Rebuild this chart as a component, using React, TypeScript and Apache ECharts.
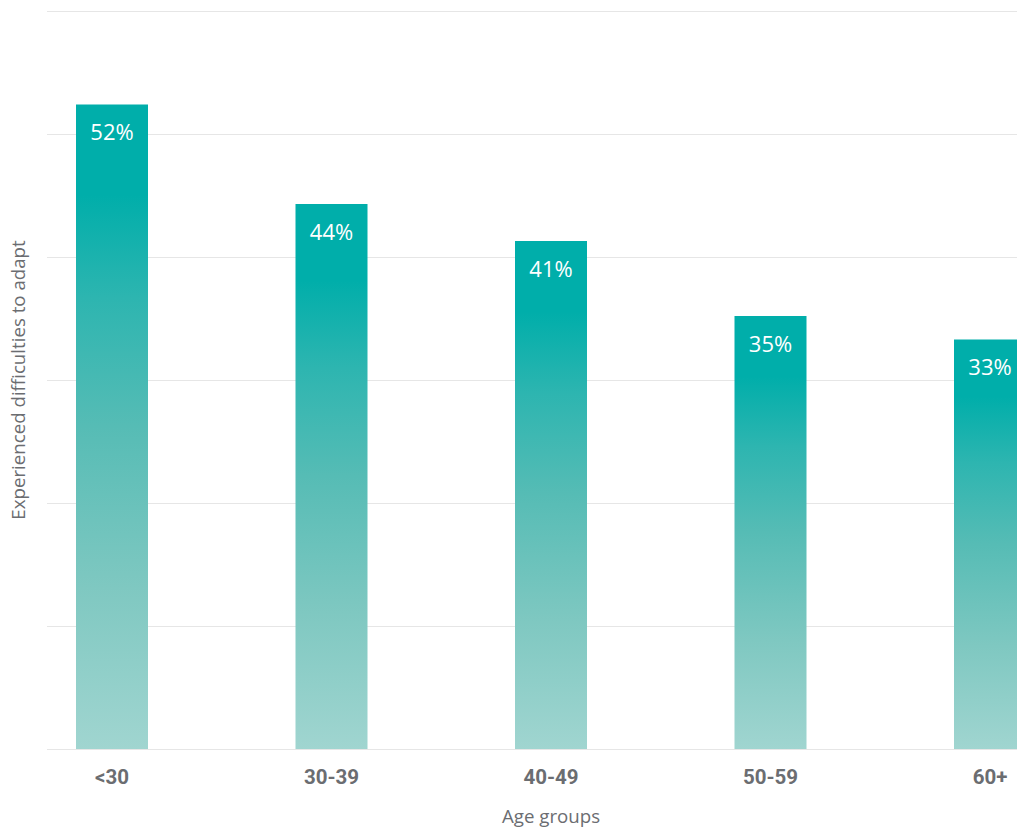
import React, { useEffect, useRef } from "react";
import * as echarts from "echarts";

const categories = ["<30", "30-39", "40-49", "50-59", "60+"];
const values = [52.4, 44.3, 41.3, 35.2, 33.3];
const yTicks = [0, 10, 20, 30, 40, 50, 60];

export default function App() {
  const ref = useRef<HTMLDivElement>(null);
  useEffect(() => {
    if (!ref.current) return;
    const chart = echarts.init(ref.current, null, { renderer: "svg" });
    const yMax = yTicks[yTicks.length - 1];
    chart.setOption({
      animation: false,
      backgroundColor: "#ffffff",
      grid: [
        { left: 47, right: 0, top: 11, bottom: 79, outerBoundsMode: "none", containLabel: false },
        { left: 112, width: 878, top: 11, bottom: 79, outerBoundsMode: "none", containLabel: false },
      ],
      xAxis: [
        { type: "value", gridIndex: 0, show: false, min: 0, max: 1 },
        {
          type: "category",
          gridIndex: 1,
          data: categories,
          boundaryGap: false,
          axisLine: { show: false },
          axisTick: { show: false },
          axisLabel: {
            margin: 17,
            fontFamily: "Roboto, sans-serif",
            fontWeight: "bold",
            fontSize: 20.5,
            color: "#6b6d71",
          },
          name: "Age groups",
          nameLocation: "middle",
          nameGap: 57,
          nameTextStyle: { fontFamily: "'Open Sans', sans-serif", fontSize: 18.7, color: "#6b6d71" },
        },
      ],
      yAxis: [
        {
          type: "value",
          gridIndex: 0,
          min: 0,
          max: yMax,
          interval: 10,
          axisLine: { show: false },
          axisTick: { show: false },
          axisLabel: { show: false },
          splitLine: { lineStyle: { color: "#e6e6e6", width: 1 } },
          name: "Experienced difficulties to adapt",
          nameLocation: "middle",
          nameGap: 20,
          nameTextStyle: { fontFamily: "'Open Sans', sans-serif", fontSize: 18.7, color: "#6b6d71" },
        },
        {
          type: "value",
          gridIndex: 1,
          min: 0,
          max: yMax,
          show: false,
          splitLine: { show: false },
        },
      ],
      series: [
        {
          type: "bar",
          xAxisIndex: 1,
          yAxisIndex: 1,
          data: values,
          barWidth: 72,
          clip: false,
          itemStyle: {
            color: new echarts.graphic.LinearGradient(0, 0, 0, 1, [
              { offset: 0, color: "#00aeaa" },
              { offset: 0.14, color: "#00aeaa" },
              { offset: 0.3, color: "#2db5b0" },
              { offset: 0.5, color: "#56bcb5" },
              { offset: 0.75, color: "#7fc8c1" },
              { offset: 1, color: "#a0d5d0" },
            ]),
          },
          label: {
            show: true,
            position: "insideTop",
            distance: 16,
            color: "#ffffff",
            fontFamily: "'Open Sans', sans-serif",
            fontSize: 22,
            formatter: (p: any) => Math.round(p.value) + "%",
          },
        },
      ],
    });
    return () => chart.dispose();
  }, []);
  return (
    <div
      ref={ref}
      style={{ position: "absolute", left: 0, top: 0, width: 1017, height: 828 }}
    />
  );
}
